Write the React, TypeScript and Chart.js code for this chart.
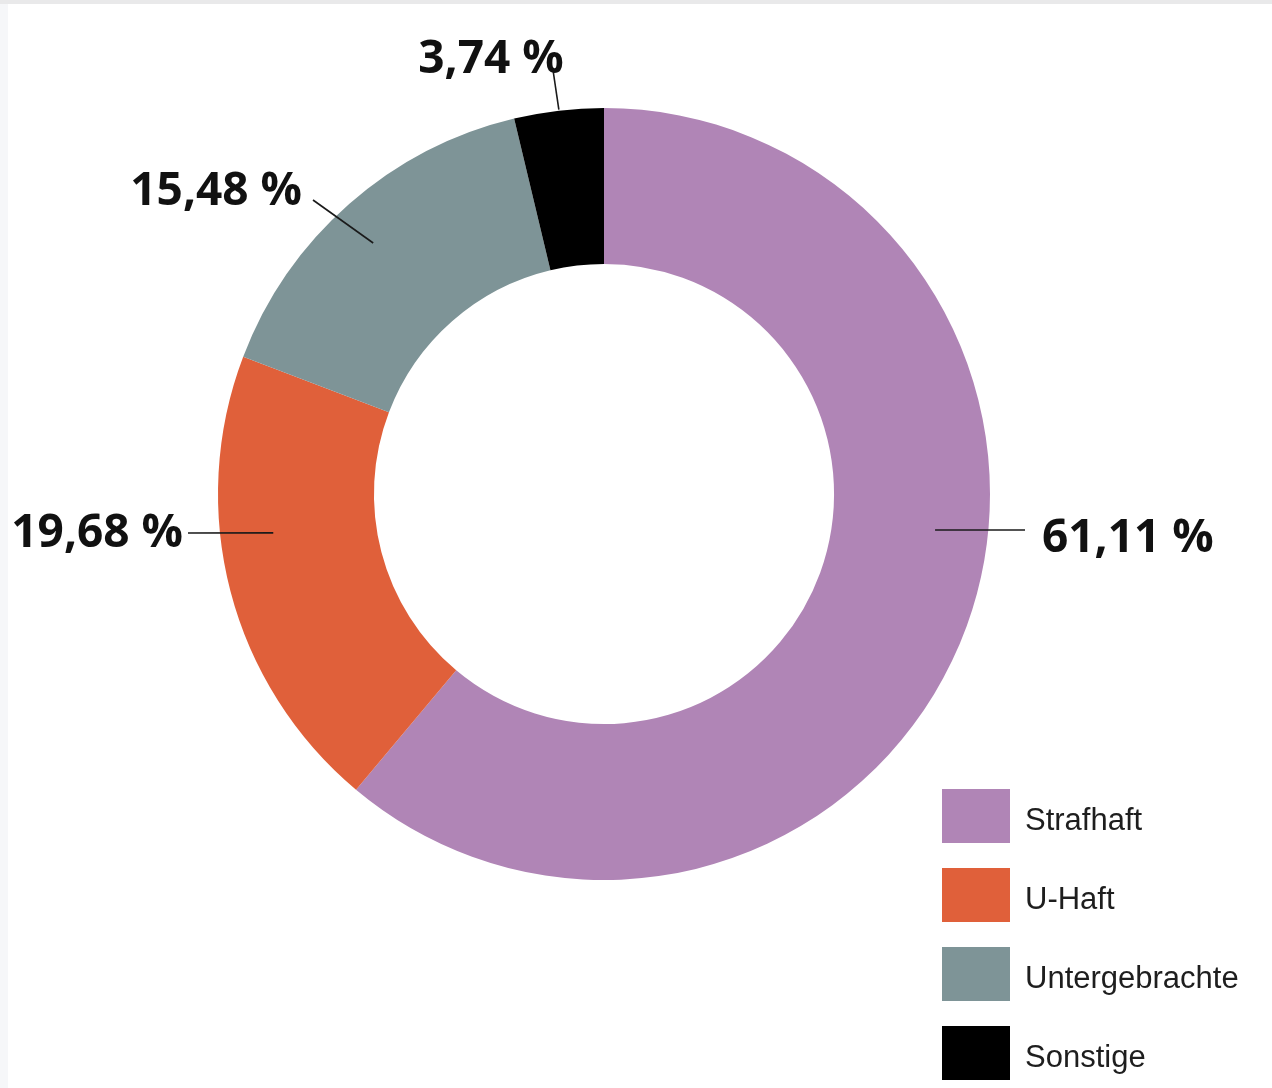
import React, { useEffect, useRef } from "react";
import { Chart, registerables } from "chart.js";

Chart.register(...registerables);

// ---- data ----
const categories = ["Strafhaft", "U-Haft", "Untergebrachte", "Sonstige"];
const shares = [61.11, 19.68, 15.48, 3.74];
const valueLabels = ["61,11 %", "19,68 %", "15,48 %", "3,74 %"];
const sliceColors = ["#B085B6", "#E0603A", "#7E9497", "#000000"];

// ---- label / leader layout (relative to doughnut centre) ----
const anchorDeg = [6.2, 173.3, -132.6, -96.7];
const anchorRadius = [333, 333, 341, 387];
const lineEnd = [
  [421, 36],
  [-416, 39],
  [-291, -294],
  [-51, -424],
];
const textPos = [
  [438, 58],
  [-421, 53],
  [-302, -289],
  [-113, -421],
];
const textAlign: CanvasTextAlign[] = ["left", "right", "right", "center"];

const panelPlugin = {
  id: "panel",
  beforeDraw(chart: any) {
    const ctx: CanvasRenderingContext2D = chart.ctx;
    ctx.save();
    ctx.fillStyle = "#e9e9ea";
    ctx.fillRect(0, 0, chart.width, chart.height);
    ctx.fillStyle = "#f6f7f9";
    ctx.fillRect(0, 4, chart.width, chart.height - 4);
    ctx.fillStyle = "#ffffff";
    ctx.fillRect(8, 4, chart.width - 8, chart.height - 4);
    ctx.restore();
  },
};

const leaderPlugin = {
  id: "leaders",
  afterDatasetsDraw(chart: any) {
    const ctx: CanvasRenderingContext2D = chart.ctx;
    const meta = chart.getDatasetMeta(0);
    const first = meta.data[0];
    if (!first) return;
    const cx = first.x;
    const cy = first.y;
    ctx.save();
    // leader lines and value labels
    ctx.strokeStyle = "#1a1a1a";
    ctx.lineWidth = 1.6;
    ctx.fillStyle = "#111111";
    ctx.font = "bold 46px 'Open Sans', 'DejaVu Sans', sans-serif";
    ctx.textBaseline = "alphabetic";
    for (let i = 0; i < valueLabels.length; i++) {
      const a = (anchorDeg[i] * Math.PI) / 180;
      const ax = cx + anchorRadius[i] * Math.cos(a);
      const ay = cy + anchorRadius[i] * Math.sin(a);
      ctx.beginPath();
      ctx.moveTo(ax, ay);
      ctx.lineTo(cx + lineEnd[i][0], cy + lineEnd[i][1]);
      ctx.stroke();
      ctx.textAlign = textAlign[i];
      ctx.fillText(valueLabels[i], cx + textPos[i][0], cy + textPos[i][1]);
    }
    // legend
    const bg = chart.data.datasets[0].backgroundColor as string[];
    const labels = chart.data.labels as string[];
    ctx.font = "31px 'Liberation Sans', Arial, sans-serif";
    ctx.textAlign = "left";
    for (let i = 0; i < labels.length; i++) {
      const top = 789 + i * 79;
      ctx.fillStyle = bg[i];
      ctx.fillRect(942, top, 68, 54);
      ctx.fillStyle = "#1e1e1e";
      ctx.fillText(labels[i], 1025, top + 41);
    }
    ctx.restore();
  },
};

export default function App() {
  const canvasRef = useRef<HTMLCanvasElement | null>(null);

  useEffect(() => {
    if (!canvasRef.current) return;
    const chart = new Chart(canvasRef.current, {
      type: "doughnut",
      data: {
        labels: categories,
        datasets: [
          {
            data: shares,
            backgroundColor: sliceColors,
            borderWidth: 0,
            offset: 0,
            hoverOffset: 0,
          },
        ],
      },
      options: {
        responsive: false,
        animation: false,
        cutout: "59.6%",
        layout: { padding: { left: 218, top: 108, right: 282, bottom: 208 } },
        plugins: {
          legend: { display: false },
          tooltip: { enabled: false },
        },
        events: [],
      },
      plugins: [panelPlugin, leaderPlugin],
    });
    return () => chart.destroy();
  }, []);

  return (
    <div
      style={{
        position: "absolute",
        left: 0,
        top: 0,
        width: 1272,
        height: 1088,
        background: "#ffffff",
      }}
    >
      <canvas ref={canvasRef} width={1272} height={1088} style={{ display: "block" }} />
    </div>
  );
}
